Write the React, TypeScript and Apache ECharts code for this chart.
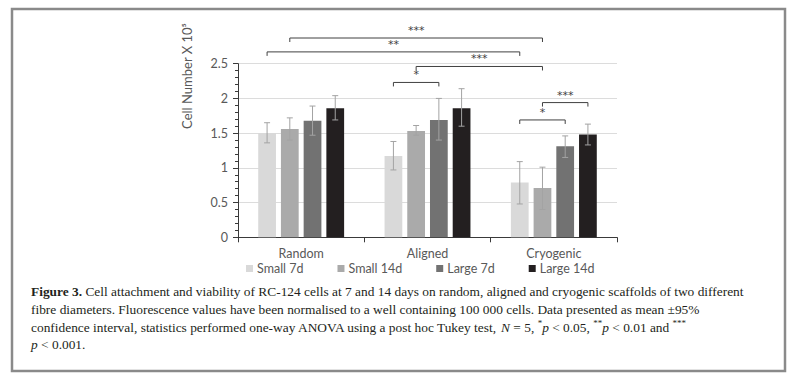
import React, { useEffect, useRef } from "react";
import * as echarts from "echarts";

const categories = ["Random", "Aligned", "Cryogenic"];
const seriesNames = ["Small 7d", "Small 14d", "Large 7d", "Large 14d"];
const small7d = [1.5, 1.17, 0.79];
const small14d = [1.56, 1.53, 0.71];
const large7d = [1.68, 1.69, 1.31];
const large14d = [1.86, 1.86, 1.48];
const small7dCI = [[1.36, 1.65], [0.97, 1.38], [0.48, 1.09]];
const small14dCI = [[1.4, 1.72], [1.47, 1.61], [0.4, 1.01]];
const large7dCI = [[1.47, 1.89], [1.4, 2.0], [1.15, 1.46]];
const large14dCI = [[1.69, 2.04], [1.6, 2.14], [1.33, 1.63]];
const yTicks = { min: 0, max: 2.5, interval: 0.5 };
// significance brackets: [category, series] endpoints, height in data units
const bracketFrom = [[0, 1], [0, 0], [1, 1], [1, 0], [2, 1], [2, 0]];
const bracketTo = [[2, 1], [2, 0], [2, 1], [1, 2], [2, 3], [2, 2]];
const bracketY = [2.87, 2.67, 2.46, 2.23, 1.94, 1.69];
const bracketLabel = ["***", "**", "***", "*", "***", "*"];

const colors = ["#d9d9d9", "#aaaaaa", "#727272", "#231f20"];
const CAT_GAP = 0.32;
const BAR_GAP = 0.28;
const barFrac = (1 - CAT_GAP) / (4 + 3 * BAR_GAP);
const barOffset = (s: number) =>
  -(1 - CAT_GAP) / 2 + barFrac / 2 + s * barFrac * (1 + BAR_GAP);

const values = [small7d, small14d, large7d, large14d];
const cis = [small7dCI, small14dCI, large7dCI, large14dCI];

const FONT = "Lato";
const GRAY = "#595959";
const CAP = 13.4;

export default function App() {
  const ref = useRef<HTMLDivElement>(null);
  useEffect(() => {
    const chart = echarts.init(ref.current!, null, { renderer: "svg" });
    const errItems: number[][] = [];
    for (let c = 0; c < categories.length; c++)
      for (let s = 0; s < 4; s++) errItems.push([c, cis[s][c][1]]);
    const brItems = bracketY.map((y, i) => [bracketFrom[i][0], y]);

    const option: any = {
      animation: false,
      backgroundColor: "#ffffff",
      grid: { left: 238, top: 63.7, right: 185, bottom: 145.7 },
      legend: {
        data: seriesNames,
        left: 246,
        top: 262,
        padding: 0,
        icon: "rect",
        itemWidth: 7,
        itemHeight: 7,
        itemGap: 34,
        textStyle: { fontFamily: FONT, fontSize: 12.5, color: GRAY, padding: [0, 0, 0, -1] },
      },
      xAxis: {
        type: "category",
        data: categories,
        axisLine: { lineStyle: { color: "#3a3a3a", width: 1 } },
        axisTick: { show: true, length: 5, lineStyle: { color: "#3a3a3a" } },
        axisLabel: { fontFamily: FONT, fontSize: 12.5, color: GRAY, margin: 10 },
        splitLine: { show: false },
      },
      yAxis: {
        type: "value",
        min: yTicks.min,
        max: yTicks.max,
        interval: yTicks.interval,
        axisLine: { show: true, lineStyle: { color: "#3a3a3a", width: 1 } },
        axisTick: { show: true, length: 5, lineStyle: { color: "#3a3a3a" } },
        minorTick: { show: true, splitNumber: 5, length: 3, lineStyle: { color: "#3a3a3a" } },
        axisLabel: { fontFamily: FONT, fontSize: 12.5, color: GRAY, margin: 10 },
        splitLine: { show: true, lineStyle: { color: "#dcdcdc", width: 1 } },
      },
      series: [
        ...seriesNames.map((n, s) => ({
          name: n,
          type: "bar",
          data: values[s],
          barCategoryGap: CAT_GAP * 100 + "%",
          barGap: BAR_GAP * 100 + "%",
          itemStyle: { color: colors[s] },
        })),
        {
          type: "custom",
          z: 5,
          clip: false,
          silent: true,
          data: errItems,
          encode: { x: 0, y: 1 },
          renderItem: (params: any, api: any) => {
            const idx = params.dataIndex;
            const c = Math.floor(idx / 4);
            const s = idx % 4;
            const [lo, hi] = cis[s][c];
            const band = api.size([1, 0])[0];
            const cx = api.coord([c, 0])[0] + barOffset(s) * band;
            const yLo = api.coord([c, lo])[1];
            const yHi = api.coord([c, hi])[1];
            const st = { stroke: "#a3a3a3", lineWidth: 1 };
            const w = 3;
            return {
              type: "group",
              children: [
                { type: "line", shape: { x1: cx, y1: yLo, x2: cx, y2: yHi }, style: st },
                { type: "line", shape: { x1: cx - w, y1: yHi, x2: cx + w, y2: yHi }, style: st },
                { type: "line", shape: { x1: cx - w, y1: yLo, x2: cx + w, y2: yLo }, style: st },
              ],
            };
          },
        },
        {
          type: "custom",
          z: 6,
          clip: false,
          silent: true,
          data: brItems,
          encode: { x: 0, y: 1 },
          renderItem: (params: any, api: any) => {
            const i = params.dataIndex;
            const band = api.size([1, 0])[0];
            const [c1, s1] = bracketFrom[i];
            const [c2, s2] = bracketTo[i];
            const x1 = api.coord([c1, 0])[0] + barOffset(s1) * band;
            const x2 = api.coord([c2, 0])[0] + barOffset(s2) * band;
            const y = api.coord([c1, bracketY[i]])[1];
            const st = { stroke: "#404040", lineWidth: 1, fill: null };
            return {
              type: "group",
              children: [
                {
                  type: "polyline",
                  shape: { points: [[x1, y + 4], [x1, y], [x2, y], [x2, y + 4]] },
                  style: st,
                },
                {
                  type: "text",
                  x: (x1 + x2) / 2,
                  y: y - 2,
                  style: {
                    text: bracketLabel[i],
                    fontFamily: "DejaVu Sans",
                    fontSize: 11,
                    fill: "#404040",
                    align: "center",
                    verticalAlign: "bottom",
                  },
                },
              ],
            };
          },
        },
      ],
      graphic: [
        {
          type: "rect",
          shape: { x: 12, y: 9, width: 773, height: 362 },
          style: { fill: "none", stroke: "#8a8a8a", lineWidth: 2.5 },
          silent: true,
        },
        {
          type: "text",
          x: 187,
          y: 76,
          rotation: Math.PI / 2,
          style: {
            text: "Cell Number X 10⁵",
            fontFamily: FONT,
            fontSize: 13,
            fill: GRAY,
            align: "center",
            verticalAlign: "middle",
          },
        },
        {
          type: "text",
          x: 31,
          y: 283,
          style: {
            text:
              "{b|Figure 3.} Cell attachment and viability of RC-124 cells at 7 and 14 days on random, aligned and cryogenic scaffolds of two different\n" +
              "fibre diameters. Fluorescence values have been normalised to a well containing 100 000 cells. Data presented as mean ±95%\n" +
              "confidence interval, statistics performed one-way ANOVA using a post hoc Tukey test, {i|N} = 5, {s|*}{i|p} < 0.05, {s|**}{i|p} < 0.01 and {s|***}\n" +
              "{i|p} < 0.001.",
            fontFamily: "Liberation Serif",
            fontSize: CAP,
            lineHeight: 17.7,
            fill: "#231f20",
            rich: {
              b: { fontFamily: "Liberation Serif", fontSize: CAP, fontWeight: "bold", lineHeight: 17.7, fill: "#231f20" },
              i: { fontFamily: "Liberation Serif", fontSize: CAP, fontStyle: "italic", lineHeight: 17.7, fill: "#231f20" },
              s: { fontFamily: "Liberation Serif", fontSize: 9, lineHeight: 17.7, verticalAlign: "top", fill: "#231f20" },
            },
          },
        },
      ],
    };
    chart.setOption(option);
    return () => chart.dispose();
  }, []);
  return (
    <div
      ref={ref}
      style={{ position: "fixed", left: 0, top: 0, width: 802, height: 383 }}
    />
  );
}
